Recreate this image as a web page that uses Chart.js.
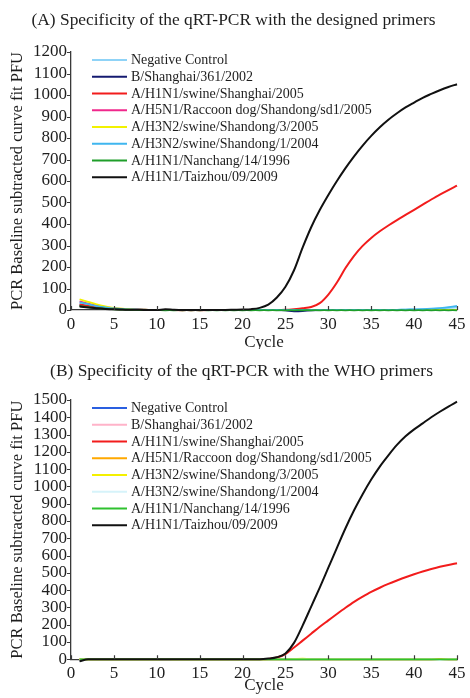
<!DOCTYPE html>
<html>
<head>
<meta charset="utf-8">
<script src="https://cdn.jsdelivr.net/npm/chart.js@4.4.1/dist/chart.umd.min.js"></script>
<style>
    html, body { margin: 0; padding: 0; background: #fff; }
    .panel { position: relative; width: 470px; height: 349px; }
</style>
</head>
<body>
<div class="panel"><canvas id="chartA"></canvas></div>
<div class="panel"><canvas id="chartB"></canvas></div>
<script>
// ------------------------------------------------------------
// Datos (ciclos de PCR y curvas de fluorescencia de cada cepa)
// ------------------------------------------------------------
const cycles = [1, 2, 3, 4, 5, 6, 7, 8, 9, 10, 11, 12, 13, 14, 15, 16, 17, 18, 19, 20,
    21, 22, 23, 24, 25, 26, 27, 28, 29, 30, 31, 32, 33, 34, 35, 36, 37, 38, 39, 40,
    41, 42, 43, 44, 45];

const strainLabels = ['Negative Control', 'B/Shanghai/361/2002', 'A/H1N1/swine/Shanghai/2005',
    'A/H5N1/Raccoon dog/Shandong/sd1/2005', 'A/H3N2/swine/Shandong/3/2005',
    'A/H3N2/swine/Shandong/1/2004', 'A/H1N1/Nanchang/14/1996', 'A/H1N1/Taizhou/09/2009'];

const xTicks = [0, 5, 10, 15, 20, 25, 30, 35, 40, 45];

// (A) cebadores diseñados
const negA = [28, 20, 14, 9, 6, 4, 3, 2, 1, 1, 0, 0, 0, 0, 0, 0, 0, 0, 0, 0,
    0, 0, 0, 0, 0, 0, 0, 0, 0, 0, 0, 0, 0, 0, 0, 0, 1, 1, 2, 3, 4, 5, 7, 9, 12];
const bshA = [22, 16, 11, 7, 4, 2, 1, 0, 0, 0, 0, 0, 0, 0, 0, 0, 0, 0, 0, 0,
    0, 0, 0, 0, -2, -6, -5, -2, 0, 0, 0, 0, 0, 0, 0, 0, 0, 0, 0, 0, 0, 0, 0, 0, 0];
const swineA = [26, 19, 13, 8, 5, 3, 2, 1, 0, 0, 0, 0, -1, -1, -1, 0, 0, 0, 0, 0,
    0, 0, 0, 0, 1, 4, 8, 14, 32, 72, 128, 195, 252, 298, 335, 366, 393, 418, 442, 466,
    490, 514, 537, 558, 578];
const h5n1A = [40, 30, 20, 13, 8, 5, 3, 2, 1, 0, 0, 0, 0, 0, 0, 0, 0, 0, 0, 0,
    0, 0, 0, 0, 0, 0, 0, 0, 0, 0, 0, 0, 0, 0, 0, 0, 0, 0, 0, 0, 0, 0, 0, 0, 0];
const h3n2s3A = [50, 38, 26, 17, 10, 6, 4, 2, 1, 0, 0, 0, 0, 0, 0, 0, 0, 0, 0, 0,
    0, 0, 0, 0, 0, 0, 0, 0, 0, 0, 0, 0, 0, 0, 0, 0, 0, 0, 0, 0, 0, 0, 0, 0, 0];
const h3n2s1A = [36, 27, 18, 12, 7, 4, 3, 2, 1, 0, 0, 0, 0, 0, 0, 0, 0, 0, 0, 0,
    0, 0, 0, 0, 0, 0, 0, 0, 0, 0, 0, 0, 0, 0, 0, 0, 0, 1, 2, 3, 4, 6, 9, 13, 19];
const nanchangA = [18, 13, 9, 6, 3, 2, 1, 0, -1, -1, -2, -2, -2, -2, -2, -2, -2, -2, -2, -2,
    -2, -2, -2, -2, -2, -2, -2, -2, -2, -2, -2, -2, -2, -2, -2, -2, -2, -2, -2, -2, -2, -2, -2, -2, -2];
const taizhouA = [16, 12, 8, 5, 3, 2, 1, 1, 0, 0, 3, 1, 0, 0, 0, 0, 0, 0, 1, 2,
    4, 10, 25, 58, 108, 185, 290, 385, 465, 535, 600, 660, 715, 765, 810, 850, 885, 915, 942, 965,
    987, 1005, 1022, 1037, 1050];

// (B) cebadores de la OMS
const negB = [-8, 0, 0, 0, 0, 0, 0, 0, 0, 0, 0, 0, 0, 0, 0, 0, 0, 0, 0, 0,
    0, 0, 0, 0, 0, 0, 0, 0, 0, 0, 0, 0, 0, 0, 0, 0, 0, 0, 0, 0, 0, 0, 0, 0, 0];
const bshB = [0, 0, 0, 0, 0, 0, 0, 0, 0, 0, 0, 0, 0, 0, 0, 0, 0, 0, 0, 0,
    0, 0, 0, 0, 0, 0, 0, 0, 0, 0, 0, 0, 0, 0, 0, 0, 0, 0, 0, 0, 0, 0, 0, 0, 0];
const swineB = [0, 0, 0, 0, 0, 0, 0, 0, 0, 0, 0, 0, 0, 0, 0, 0, 0, 0, 0, 0,
    0, 0, 2, 10, 30, 68, 108, 148, 188, 225, 262, 298, 332, 362, 390, 414, 436, 456, 475, 492,
    508, 522, 535, 546, 556];
const h5n1B = [0, 0, 0, 0, 0, 0, 0, 0, 0, 0, 0, 0, 0, 0, 0, 0, 0, 0, 0, 0,
    0, 0, 0, 0, 0, 0, 0, 0, 0, 0, 0, 0, 0, 0, 0, 0, 0, 0, 0, 0, 0, 0, 0, 0, 0];
const h3n2s3B = [0, 0, 0, 0, 0, 0, 0, 0, 0, 0, 3, 0, 0, 0, 0, 0, 0, 0, 0, 0,
    0, 0, 0, 0, 0, 2, 4, 0, 0, 0, 0, 0, 0, 0, 0, 0, 0, 0, 0, 0, 0, 0, 0, 0, 0];
const h3n2s1B = [0, 0, 0, 0, 0, 0, 0, 0, 0, 0, 0, 0, 0, 0, 0, 0, 0, 0, 0, 0,
    0, 0, 0, 0, 0, 0, 0, 0, 0, 0, 0, 0, 0, 0, 0, 0, 0, 0, 0, 0, 0, 0, -4, 0, 0];
const nanchangB = [0, 0, 0, 0, 0, 0, 0, 0, 0, 0, 0, 0, 0, 0, 0, 0, 0, 0, 0, 0,
    0, 0, 0, 0, 0, 0, 0, 0, 0, 0, 0, 0, 0, 0, 0, 0, 0, 0, 0, 0, 0, 0, 0, 0, 0];
const taizhouB = [-12, 0, 0, 0, 0, 0, 0, 0, 0, 0, 0, 0, 0, 0, 0, 0, 0, 0, 0, 0,
    0, 0, 4, 12, 34, 95, 195, 305, 415, 530, 645, 758, 862, 955, 1040, 1115, 1180, 1240, 1290, 1330,
    1365, 1400, 1432, 1462, 1490];

// Colores de cada panel (mismo orden que strainLabels)
const COLORS_A = ['#8fd3f7', '#141a70', '#f21c1c', '#f0288c', '#f2f200', '#3fb6ef', '#1f9e2a', '#111111'];
const COLORS_B = ['#2a5fe0', '#ffb3c9', '#f21c1c', '#ffa800', '#f4f000', '#d6f3fa', '#2fc12f', '#111111'];

const FONT = "'Liberation Serif', 'Times New Roman', serif";
const TEXT = '#1e1e1e';
const AXIS = '#3a3a3a';

Chart.defaults.font.family = FONT;
Chart.defaults.color = TEXT;

// ------------------------------------------------------------
// Plugin: título del panel (centrado donde está en la figura)
// ------------------------------------------------------------
const panelTitle = {
    id: 'panelTitle',
    afterDraw(chart, args, opts) {
        const { ctx } = chart;
        ctx.save();
        ctx.font = `17.4px ${FONT}`;
        ctx.fillStyle = TEXT;
        ctx.textAlign = 'center';
        ctx.textBaseline = 'middle';
        ctx.fillText(opts.text, opts.x, opts.y);
        ctx.restore();
    }
};

// ------------------------------------------------------------
// Plugin: marcas de los ejes (y hacia afuera, x hacia adentro)
// ------------------------------------------------------------
const tickMarks = {
    id: 'tickMarks',
    afterDraw(chart) {
        const { ctx, chartArea, scales: { x, y } } = chart;
        ctx.save();
        ctx.strokeStyle = AXIS;
        ctx.lineWidth = 1.2;
        ctx.beginPath();
        y.ticks.forEach((t) => {
            const py = Math.round(y.getPixelForValue(t.value)) + 0.5;
            ctx.moveTo(chartArea.left - 4, py);
            ctx.lineTo(chartArea.left, py);
        });
        x.ticks.forEach((t) => {
            const px = Math.round(x.getPixelForValue(t.value)) + 0.5;
            ctx.moveTo(px, chartArea.bottom);
            ctx.lineTo(px, chartArea.bottom - 4);
        });
        ctx.stroke();
        ctx.restore();
    }
};

// ------------------------------------------------------------
// Plugin: leyenda dentro del área de la gráfica (esquina sup. izq.)
// ------------------------------------------------------------
const curveLegend = {
    id: 'curveLegend',
    afterDraw(chart, args, opts) {
        const { ctx } = chart;
        ctx.save();
        ctx.font = `14px ${FONT}`;
        ctx.textBaseline = 'middle';
        ctx.fillStyle = TEXT;
        chart.data.datasets.forEach((ds, i) => {
            const yy = opts.top + i * opts.gap;
            ctx.strokeStyle = ds.borderColor;
            ctx.lineWidth = 2;
            ctx.beginPath();
            ctx.moveTo(opts.left, yy);
            ctx.lineTo(opts.left + 35, yy);
            ctx.stroke();
            ctx.fillText(ds.label, opts.left + 39, yy + 0.5);
        });
        ctx.restore();
    }
};

// Construye los datasets de un panel a partir de las series
function buildDatasets(series, colors) {
    return series.map((values, i) => ({
        label: strainLabels[i],
        data: values.map((v, k) => ({ x: cycles[k], y: v })),
        borderColor: colors[i],
        backgroundColor: colors[i],
        borderWidth: i === 2 || i === 7 ? 2 : 1.8,
        pointRadius: 0,
        tension: 0.4,
        cubicInterpolationMode: 'monotone',
        clip: 6,
        order: series.length - i   // el último (negro) se dibuja encima
    }));
}

// Configuración común de cada panel
function panelConfig(title, datasets, yMax, lay) {
    return {
        type: 'line',
        data: { datasets },
        options: {
            responsive: true,
            maintainAspectRatio: false,
            animation: false,
            devicePixelRatio: 1,
            layout: { padding: { left: 0, right: 13, top: lay.plotTop, bottom: 0 } },
            plugins: {
                legend: { display: false },
                tooltip: { enabled: false },
                panelTitle: { text: title, x: lay.titleX, y: lay.titleY },
                curveLegend: { left: 92, top: lay.legendTop, gap: 16.75 }
            },
            scales: {
                x: {
                    type: 'linear',
                    min: 0, max: 45,
                    afterBuildTicks: (s) => { s.ticks = xTicks.map((v) => ({ value: v })); },
                    grid: { display: false, drawTicks: false },
                    border: { display: true, color: AXIS, width: 1.3 },
                    ticks: { font: { size: 17 }, color: TEXT, padding: 4, maxRotation: 0, autoSkip: false },
                    title: {
                        display: true, text: 'Cycle', color: TEXT,
                        font: { size: 17, lineHeight: 1 },
                        padding: { top: 0, bottom: lay.cycleBottom }
                    },
                    afterFit: (s) => { s.height = lay.xHeight; }
                },
                y: {
                    min: 0, max: yMax,
                    grid: { display: false, drawTicks: false },
                    border: { display: true, color: AXIS, width: 1.3 },
                    ticks: {
                        stepSize: 100, autoSkip: false, font: { size: 17 }, color: TEXT, padding: 4,
                        callback: (v) => String(v)
                    },
                    title: {
                        display: true, text: 'PCR Baseline subtracted curve fit PFU', color: TEXT,
                        font: { size: 16.5, lineHeight: 1.2 },
                        padding: { top: 7.5, bottom: 0 }
                    },
                    afterFit: (s) => { s.width = 71; }
                }
            }
        },
        plugins: [panelTitle, tickMarks, curveLegend]
    };
}

new Chart(document.getElementById('chartA'), panelConfig(
    '(A) Specificity of the qRT-PCR with the designed primers',
    buildDatasets([negA, bshA, swineA, h5n1A, h3n2s3A, h3n2s1A, nanchangA, taizhouA], COLORS_A),
    1200,
    { plotTop: 52, titleX: 233.5, titleY: 20, xHeight: 39, cycleBottom: -2, legendTop: 60 }
));

new Chart(document.getElementById('chartB'), panelConfig(
    '(B) Specificity of the qRT-PCR with the WHO primers',
    buildDatasets([negB, bshB, swineB, h5n1B, h3n2s3B, h3n2s1B, nanchangB, taizhouB], COLORS_B),
    1500,
    { plotTop: 51, titleX: 241.5, titleY: 22.5, xHeight: 38.7, cycleBottom: 4, legendTop: 59 }
));
</script>
</body>
</html>
